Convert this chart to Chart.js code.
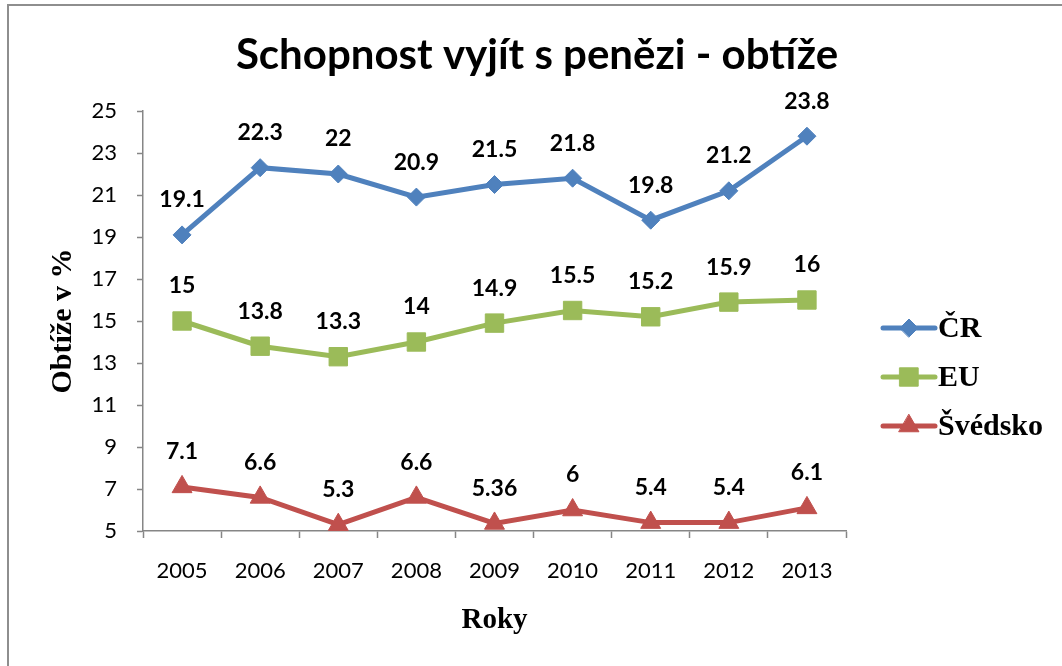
<!DOCTYPE html>
<html>
<head>
<meta charset="utf-8">
<script src="https://cdn.jsdelivr.net/npm/chart.js@4"></script>
<style>
  html, body { margin: 0; padding: 0; background: #fff; overflow: hidden; }
  #wrap { position: relative; width: 1062px; height: 666px; }
  #frame { position: absolute; left: 7px; top: 4px; width: 1120px; height: 720px; border: 2px solid #8e8e8e; box-sizing: border-box; }
  #c { position: absolute; left: 0; top: 0; }
</style>
</head>
<body>
<div id="wrap">
  <div id="frame"></div>
  <canvas id="c" width="1062" height="666"></canvas>
</div>
<script>
// data
const years = ['2005', '2006', '2007', '2008', '2009', '2010', '2011', '2012', '2013'];
const crValues = [19.1, 22.3, 22, 20.9, 21.5, 21.8, 19.8, 21.2, 23.8];
const euValues = [15, 13.8, 13.3, 14, 14.9, 15.5, 15.2, 15.9, 16];
const seValues = [7.1, 6.6, 5.3, 6.6, 5.36, 6, 5.4, 5.4, 6.1];
const seriesNames = ['ČR', 'EU', 'Švédsko'];
const chartTitle = 'Schopnost vyjít s penězi - obtíže';
const yMin = 5, yMax = 25, yStep = 2;

const BLUE = '#4F81BD', GREEN = '#9BBB59', RED = '#C0504D', AXIS = '#868686';
const SANS = 'Lato, "Open Sans", sans-serif';
const SERIF = '"Liberation Serif", "Times New Roman", serif';

function series(label, data, color, style, radius) {
  return {
    label, data,
    borderColor: color, backgroundColor: color,
    borderWidth: 5, tension: 0,
    pointStyle: style, pointRadius: radius, pointHoverRadius: radius,
    pointBorderWidth: 1, pointBorderColor: color, pointBackgroundColor: color
  };
}

// title is centred on the whole picture, not on the plot area
const pageTitle = {
  id: 'pageTitle',
  afterDraw(chart) {
    const ctx = chart.ctx;
    ctx.save();
    ctx.font = 'bold 42px ' + SANS;
    ctx.fillStyle = '#000';
    ctx.textAlign = 'center';
    ctx.textBaseline = 'middle';
    ctx.fillText(chartTitle, 537, 55);
    ctx.restore();
  }
};

// value labels above each point
const valueLabels = {
  id: 'valueLabels',
  afterDatasetsDraw(chart) {
    const ctx = chart.ctx;
    ctx.save();
    ctx.font = 'bold 23px ' + SANS;
    ctx.fillStyle = '#000';
    ctx.textAlign = 'center';
    ctx.textBaseline = 'middle';
    chart.data.datasets.forEach((ds, i) => {
      chart.getDatasetMeta(i).data.forEach((pt, j) => {
        ctx.fillText(String(ds.data[j]), pt.x, pt.y - 35);
      });
    });
    ctx.restore();
  }
};

// excel-like legend: line with marker, then name
const sideLegend = {
  id: 'sideLegend',
  afterDraw(chart) {
    const ctx = chart.ctx;
    const x0 = chart.chartArea.right + 37;
    const y0 = 328, gap = 49, len = 52;
    ctx.save();
    chart.data.datasets.forEach((ds, i) => {
      const y = y0 + i * gap;
      ctx.strokeStyle = ds.borderColor;
      ctx.fillStyle = ds.backgroundColor;
      ctx.lineWidth = 5;
      ctx.lineCap = 'round';
      ctx.beginPath();
      ctx.moveTo(x0, y);
      ctx.lineTo(x0 + len, y);
      ctx.stroke();
      ctx.lineWidth = 1;
      Chart.helpers.drawPoint(ctx, { pointStyle: ds.pointStyle, radius: ds.pointRadius, rotation: 0, borderWidth: 1 }, x0 + len / 2, y);
      ctx.fillStyle = '#000';
      ctx.font = 'bold 30px ' + SERIF;
      ctx.textAlign = 'left';
      ctx.textBaseline = 'middle';
      ctx.fillText(ds.label, x0 + len + 3, y + 1);
    });
    ctx.restore();
  }
};

new Chart(document.getElementById('c'), {
  type: 'line',
  data: {
    labels: years,
    datasets: [
      series(seriesNames[0], crValues, BLUE, 'rectRot', 9),
      series(seriesNames[1], euValues, GREEN, 'rect', 13),
      series(seriesNames[2], seValues, RED, 'triangle', 11.5)
    ]
  },
  options: {
    responsive: false,
    animation: false,
    devicePixelRatio: 1,
    layout: { padding: { left: 0, right: 216, top: 111, bottom: 0 } },
    plugins: {
      legend: { display: false },
      tooltip: { enabled: false },
      title: { display: false }
    },
    scales: {
      x: {
        offset: true,
        grid: { offset: true, drawOnChartArea: false, drawTicks: true, tickLength: 7, tickColor: AXIS, tickWidth: 1.5 },
        border: { color: AXIS, width: 1.5 },
        ticks: { color: '#000', font: { family: SANS, size: 22 }, padding: 20, maxRotation: 0 },
        title: {
          display: true, text: 'Roky', color: '#000',
          font: { family: SERIF, size: 29, weight: 'bold' },
          padding: { top: 0, bottom: 28 }
        },
        afterFit: s => { s.height = 135; }
      },
      y: {
        min: yMin, max: yMax,
        grid: { drawOnChartArea: false, drawTicks: true, tickLength: 6, tickColor: AXIS, tickWidth: 1.5 },
        border: { color: AXIS, width: 1.5 },
        ticks: { stepSize: yStep, color: '#000', font: { family: SANS, size: 22 }, padding: 20 },
        title: {
          display: true, text: 'Obtíže v %', color: '#000',
          font: { family: SERIF, size: 30, weight: 'bold' },
          padding: { top: 45, bottom: 0 }
        },
        afterFit: s => { s.width = 143; }
      }
    }
  },
  plugins: [valueLabels, sideLegend, pageTitle]
});
</script>
</body>
</html>
